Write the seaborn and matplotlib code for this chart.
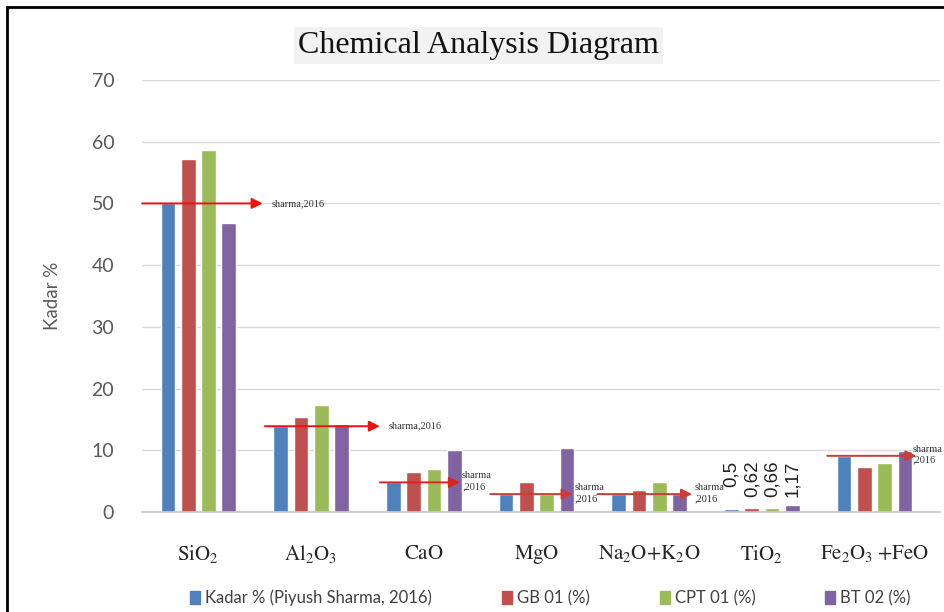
import pandas as pd
import seaborn as sns
import matplotlib.pyplot as plt
from matplotlib.patches import Rectangle

# Daten
categories = [r'$\mathrm{SiO_2}$', r'$\mathrm{Al_2O_3}$', r'$\mathrm{CaO}$', r'$\mathrm{MgO}$',
              r'$\mathrm{Na_2O{+}K_2O}$', r'$\mathrm{TiO_2}$', r'$\mathrm{Fe_2O_3\;{+}FeO}$']
series = ['Kadar % (Piyush Sharma, 2016)', 'GB 01 (%)', 'CPT 01 (%)', 'BT 02 (%)']
kadar = [50.0, 13.9, 4.8, 2.9, 2.9, 0.5, 9.1]
gb01 = [57.2, 15.4, 6.5, 4.9, 3.6, 0.62, 7.3]
cpt01 = [58.7, 17.4, 6.9, 2.9, 4.9, 0.66, 7.9]
bt02 = [46.9, 14.3, 10.0, 10.4, 2.9, 1.17, 9.9]
tio2_labels = ['0,5', '0,62', '0,66', '1,17']
ref_note = 'sharma,2016'

df = pd.DataFrame({'oxide': categories * 4,
                   'serie': [s for s in series for _ in categories],
                   'wert': kadar + gb01 + cpt01 + bt02})

colors = ['#4F81BD', '#C0504D', '#9BBB59', '#8064A2']

sns.set_theme(style='white')
plt.rcParams['font.family'] = ['Lato', 'DejaVu Sans']
plt.rcParams['mathtext.fontset'] = 'stix'

fig = plt.figure(figsize=(9.44, 6.12), dpi=100)
ax = fig.add_axes([142 / 944, 1 - 512 / 612, (940 - 142) / 944, (512 - 80) / 612])

sns.barplot(data=df, x='oxide', y='wert', hue='serie', hue_order=series,
            order=categories, palette=colors, width=0.72, gap=0.28,
            saturation=1, legend=False, ax=ax)

ax.set_ylim(0, 70)
ax.set_xlim(-0.5, 6.58)
ax.set_yticks(range(0, 71, 10))
ax.yaxis.grid(True, color='#d9d9d9', lw=1)
ax.set_axisbelow(True)
for s in ['left', 'right', 'top']:
    ax.spines[s].set_visible(False)
ax.spines['bottom'].set_color('#c8c8c8')
ax.tick_params(axis='y', length=0, pad=20, labelsize=14, labelcolor='#595959')
ax.tick_params(axis='x', length=0, pad=22, labelsize=15)
ax.set_xlabel('')
ax.set_ylabel('Kadar %', fontsize=13.5, color='#595959', labelpad=22)

# Pfeile "sharma,2016" auf Hoehe der Sharma-Werte
arrow_cats = [0, 1, 2, 3, 4, 6]
arrow_from = [-0.5, -0.41, -0.39, -0.41, -0.46, -0.42]
arrow_to = [0.57, 0.61, 0.32, 0.32, 0.38, 0.37]
arrow_col = ['#ee1111', '#ee1111', '#dd2222', '#cc3b36', '#cc3b36', '#cc3b36']
note_dx = [0.08, 0.08, 0.02, 0.02, 0.02, -0.03]
two_lines = [False, False, True, True, True, True]
for c, a, b, col, dx, tl in zip(arrow_cats, arrow_from, arrow_to, arrow_col, note_dx, two_lines):
    y = kadar[c]
    ax.annotate('', xy=(c + b, y), xytext=(c + a, y),
                arrowprops=dict(arrowstyle='-|>', color=col, lw=1.4,
                                mutation_scale=16, shrinkA=0, shrinkB=0),
                annotation_clip=False)
    if tl:
        ax.text(c + b + dx, y + 0.2, ref_note.replace(',', '\n,'), fontsize=7.5,
                family='Liberation Serif', color='#333333', va='center', ha='left',
                linespacing=1.3)
    else:
        ax.text(c + b + dx, y, ref_note, fontsize=7.5, family='Liberation Serif',
                color='#333333', va='center', ha='left')

# Werte fuer TiO2
for cont, txt in zip(ax.containers, tio2_labels):
    bar = cont.patches[5]
    ax.text(bar.get_x() + bar.get_width() / 2, 8.3, txt, rotation=90,
            ha='center', va='top', fontsize=13.5, family='Liberation Sans', color='#222222')

# Titel mit grauem Kasten
fig.text(0.507, 0.926, 'Chemical Analysis Diagram', ha='center', va='center',
         fontsize=23, family='Liberation Serif', color='#111111',
         bbox=dict(boxstyle='square,pad=0.12', fc='#f2f2f2', ec='none'))

# Legende
handles = [Rectangle((0, 0), 1, 1, color=c) for c in colors]
fig.legend(handles, series, loc='center', bbox_to_anchor=(0.583, 1 - 598 / 612),
           ncol=4, frameon=False, fontsize=12, handlelength=0.6, handleheight=0.9,
           handletextpad=0.3, columnspacing=4.2, labelcolor='#404040')

# schwarzer Rahmen (rechts/unten abgeschnitten)
fig.patches.append(Rectangle((7 / 944, -0.2), 1.2, 1.2 - 7 / 612,
                             transform=fig.transFigure, fill=False, ec='black', lw=2))

fig.savefig('out.png', dpi=100)
